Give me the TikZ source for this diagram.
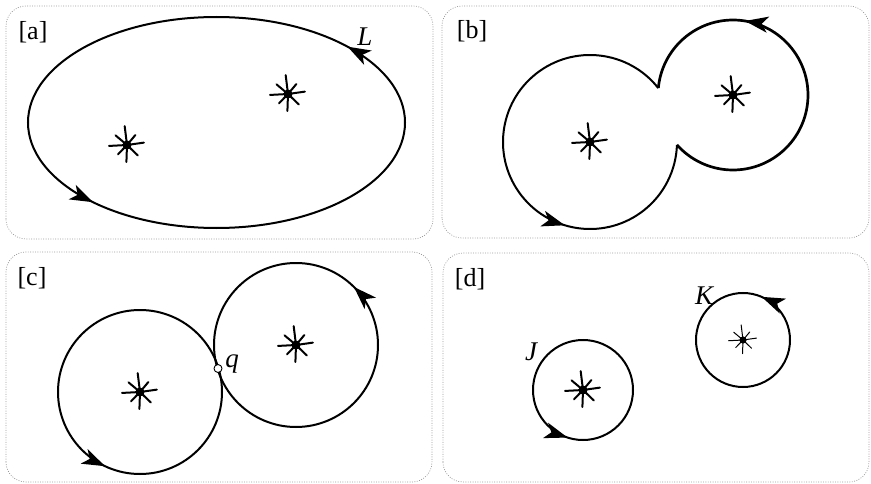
\documentclass[tikz,border=0pt]{standalone}
\usepackage{fontspec}
\setmainfont{Liberation Serif}
\usetikzlibrary{arrows.meta,decorations.markings}
\tikzset{
  >={Stealth[length=23pt,width=16pt,inset=6pt]},
  panel/.style={draw=black!40, line width=0.7pt, dash pattern=on 0.9pt off 1.5pt, rounded corners=20pt},
  curve/.style={line width=2pt},
  tag/.style={font=\fontsize{26}{28}\selectfont, inner sep=0pt},
  lab/.style={font=\fontsize{27}{29}\selectfont\itshape, inner sep=0pt},
  arrat/.style={decoration={markings, mark=at position #1 with {\arrow{>}}}, postaction={decorate}},
  arrtwo/.style 2 args={decoration={markings, mark=at position #1 with {\arrow{>}}, mark=at position #2 with {\arrow{>}}}, postaction={decorate}},
  pics/starmk/.style={code={
    \foreach \a/\l in {8/17, 50/13, 97/19, 140/15, 183/18, 226/13, 268/17, 316/15}
      \draw[line width=#1, line cap=round] (0,0) -- (\a:\l);
    \fill (0,0) circle (4.5);
  }}
}
\begin{document}
\begin{tikzpicture}[x=1pt,y=1pt]
\useasboundingbox (0,0) rectangle (871,483);
% panels
\draw[panel] (6,244) rectangle (433,477);
\draw[panel] (442,245) rectangle (869,477);
\draw[panel] (6,1) rectangle (432,231);
\draw[panel] (443,1) rectangle (869,230);

% panel a
\draw[curve, arrtwo={0.106}{0.615}] (216.5,360.5) ellipse [x radius=188.5, y radius=105.5];
\pic at (127,338) {starmk=2pt};
\pic at (288,389) {starmk=2pt};
\node[tag] (ta) at (33,451) {[a]};
\node[lab] (L) at (365,446) {L};

% panel b
\draw[curve, arrat=0.672] (590,341) ++(38.3:87) arc[start angle=38.3, end angle=358.1, radius=87];
\draw[curve, line width=2.7pt, arrat=0.70] (733,388) ++(221.7:75) arc[start angle=221.7, end angle=534.7, radius=75];
\pic at (590,341) {starmk=2pt};
\pic at (733,388) {starmk=2pt};
\node[tag] (tb) at (472,452) {[b]};

% panel c
\draw[curve, arrat=0.68] (140,91) circle (82);
\draw[curve, arrat=0.125] (296,138) circle (82);
\pic at (140,91) {starmk=2pt};
\pic at (296,138) {starmk=2pt};
\node[circle, draw, fill=white, inner sep=0pt, minimum size=8pt, line width=0.9pt] (q) at (218,114.5) {};
\node[lab] (ql) at (232,119) {q};
\node[tag] (tc) at (32,205) {[c]};

% panel d
\draw[curve, arrat=0.70] (583,93) circle (50);
\draw[curve, arrat=0.185] (743,143) circle (47);
\pic at (583,93) {starmk=2pt};
\pic[scale=0.8] at (743,143) {starmk=1pt};
\node[lab] (J) at (531,131) {J};
\node[lab] (K) at (704,187) {K};
\node[tag] (td) at (470,204) {[d]};
\end{tikzpicture}
\end{document}
